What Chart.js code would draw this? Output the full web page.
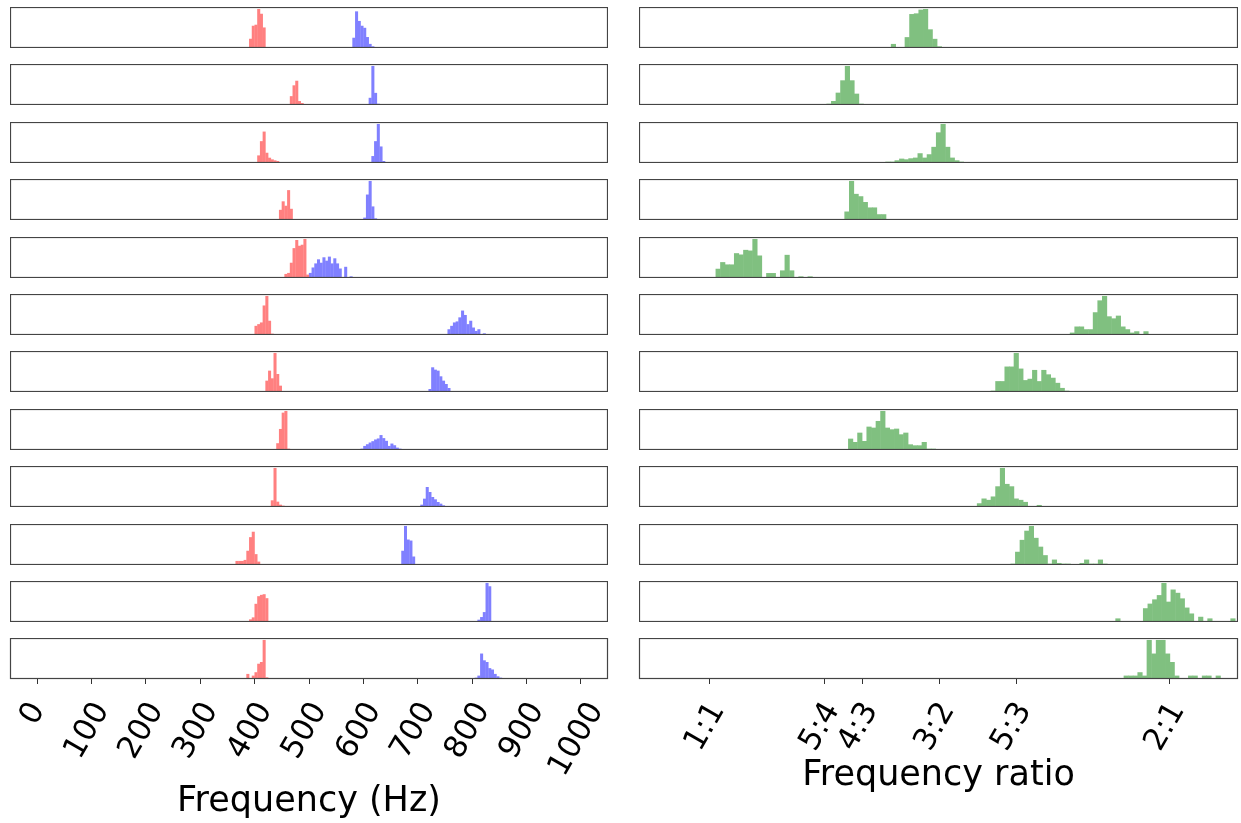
<!DOCTYPE html>
<html>
<head>
<meta charset="utf-8">
<script src="https://cdn.jsdelivr.net/npm/chart.js@4.4.0/dist/chart.umd.min.js"></script>
<style>
  html, body { margin: 0; padding: 0; background: #fff; overflow: hidden; }
  #figure { position: relative; width: 1241px; height: 823px; }
  #figure canvas { position: absolute; }
</style>
</head>
<body>
<div id="figure"></div>
<script>
// histogram bins (counts are relative heights)
const freqBin = 5;
const lowStarts = [390, 465, 405, 445, 450, 400, 420, 440, 430, 365, 380, 385];
const lowCounts = [
  [27, 65, 68, 114, 100, 60],
  [27, 60, 74, 12, 6],
  [23, 66, 95, 31, 16, 11, 8, 6, 3],
  [30, 55, 42, 88, 33],
  [3, 12, 15, 45, 88, 112, 95, 98, 115, 10],
  [27, 32, 37, 87, 115, 42, 4],
  [34, 64, 41, 117, 54, 19],
  [20, 62, 110, 115, 4],
  [20, 117, 16, 7, 4],
  [12, 12, 12, 15, 42, 82, 98, 32, 10],
  [3, 0, 8, 14, 55, 78, 82, 84, 72],
  [15, 0, 10, 20, 45, 50, 115, 5, 3]
];
const highStarts = [580, 610, 615, 600, 500, 755, 720, 595, 705, 670, 800, 805];
const highCounts = [
  [30, 107, 79, 65, 59, 32, 12, 5],
  [22, 119, 37, 4],
  [21, 66, 118, 50, 6],
  [7, 75, 115, 40, 5],
  [15, 31, 43, 55, 45, 61, 51, 63, 43, 58, 43, 28, 0, 33, 0, 5],
  [17, 27, 37, 40, 52, 72, 59, 32, 42, 22, 12, 17, 3, 5, 0, 3],
  [9, 74, 67, 64, 47, 34, 24, 12],
  [4, 12, 17, 22, 26, 31, 34, 44, 35, 27, 12, 19, 14, 7, 4],
  [7, 25, 60, 45, 30, 23, 15, 10, 5, 3],
  [42, 115, 75, 72, 25],
  [3, 3, 7, 15, 30, 118, 108, 3],
  [4, 10, 75, 55, 50, 32, 28, 15, 8, 4]
];

const ratioBin = 0.01;
const ratioStarts = [1.395, 1.255, 1.383, 1.284, 1.014, 1.784, 1.612, 1.302, 1.572, 1.655, 1.883, 1.901];
const ratioCounts = [
  [12, 3, 3, 32, 100, 102, 113, 115, 55, 27, 5, 2],
  [4, 12, 37, 74, 117, 74, 34, 4],
  [4, 4, 8, 13, 11, 14, 16, 29, 16, 26, 48, 91, 116, 48, 16, 8, 4],
  [3, 25, 115, 77, 70, 53, 37, 37, 17, 17],
  [28, 48, 41, 41, 75, 71, 85, 83, 118, 68, 0, 15, 15, 0, 23, 70, 23, 0, 5, 0, 5],
  [7, 25, 25, 17, 17, 67, 102, 115, 55, 49, 57, 25, 17, 7, 11, 2, 11],
  [4, 32, 32, 75, 75, 115, 69, 35, 39, 65, 32, 65, 52, 42, 27, 12, 4],
  [34, 24, 52, 27, 70, 67, 87, 117, 67, 62, 64, 47, 52, 17, 14, 14, 24, 4, 4],
  [2, 11, 25, 21, 31, 61, 115, 68, 61, 25, 21, 15, 3, 3, 6, 0, 3],
  [4, 39, 74, 101, 115, 80, 54, 29, 4, 16, 6, 4, 4, 0, 0, 6, 16, 4, 4, 16, 4],
  [11, 0, 0, 0, 0, 0, 42, 56, 69, 82, 119, 62, 99, 89, 72, 44, 26, 0, 16, 0, 11, 0, 0, 0, 0, 11],
  [10, 10, 10, 20, 10, 115, 75, 115, 115, 75, 50, 10, 0, 0, 10, 10, 0, 10, 10, 0, 10]
];

const freqTicks = [0, 100, 200, 300, 400, 500, 600, 700, 800, 900, 1000];
const ratioTicks = [1, 5 / 4, 4 / 3, 3 / 2, 5 / 3, 2];
const ratioTickLabels = ['1:1', '5:4', '4:3', '3:2', '5:3', '2:1'];
const freqRange = [-50, 1050];
const ratioRange = [0.847, 2.149];

// layout of the 12 x 2 grid
const rowTops = [7, 64, 122, 179, 237, 294, 351, 409, 466, 524, 581, 638];
const boxH = 41;
const sidePad = 30; // room for the rotated tick labels on the bottom row
const leftCol = { x: 10, w: 598, axisH: 148 };
const rightCol = { x: 639, w: 599, axisH: 122 };

Chart.defaults.font.family = "'DejaVu Sans', sans-serif";
Chart.defaults.color = '#000';

const figure = document.getElementById('figure');

const toBars = (start, counts, bin) => counts.map((c, i) => ({ x: start + (i + 0.5) * bin, y: c }));

const framePlugin = {
  id: 'frame',
  afterDatasetsDraw(chart) {
    const { ctx, chartArea: a } = chart;
    ctx.save();
    ctx.strokeStyle = '#444';
    ctx.lineWidth = 1.2;
    ctx.strokeRect(a.left + 0.5, a.top + 0.5, a.right - a.left - 1, a.bottom - a.top - 1);
    ctx.restore();
  }
};

// chart.js ends rotated labels at the tick; matplotlib centres them on it
const centerLabelsPlugin = {
  id: 'centerLabels',
  beforeDraw(chart) {
    const scale = chart.scales.x;
    if (!scale.options.display) return;
    const ctx = chart.ctx;
    ctx.save();
    scale.getLabelItems().forEach(item => {
      if (item.shifted) return;
      ctx.font = item.font.string;
      const w = ctx.measureText(String(item.label)).width;
      item.options.translation[0] += w / 4 - 4;
      item.shifted = true;
    });
    ctx.restore();
  }
};

// solid tints (the 50% alpha look) and a hair of overlap so bins don't show seams
function barSet(data, color) {
  return {
    data,
    backgroundColor: color,
    borderWidth: 0,
    barPercentage: 1.12,
    categoryPercentage: 1,
    grouped: false
  };
}

function makeChart(col, row, datasets, range, ticks, labelFn, title) {
  const bottom = row === rowTops.length - 1;
  const pad = bottom ? sidePad : 0;
  const canvas = document.createElement('canvas');
  const w = col.w + 2 * pad;
  const h = bottom ? boxH + col.axisH : boxH;
  canvas.width = w;
  canvas.height = h;
  canvas.style.left = (col.x - pad) + 'px';
  canvas.style.top = rowTops[row] + 'px';
  canvas.style.width = w + 'px';
  canvas.style.height = h + 'px';
  figure.appendChild(canvas);

  const peak = Math.max(...datasets.flatMap(d => d.data.map(p => p.y)));

  return new Chart(canvas, {
    type: 'bar',
    data: { datasets },
    plugins: [framePlugin, centerLabelsPlugin],
    options: {
      responsive: false,
      animation: false,
      devicePixelRatio: 1,
      events: [],
      layout: { padding: { left: pad, right: pad, top: 0, bottom: 0 } },
      plugins: { legend: { display: false }, tooltip: { enabled: false } },
      scales: {
        x: {
          type: 'linear',
          min: range[0],
          max: range[1],
          offset: false,
          display: bottom,
          afterBuildTicks: s => { s.ticks = ticks.map(v => ({ value: v })); },
          afterFit: s => { if (bottom) s.height = col.axisH; },
          grid: { offset: false, drawOnChartArea: false, drawTicks: true, tickLength: 5, color: '#333' },
          border: { display: false },
          ticks: {
            autoSkip: false,
            minRotation: 60,
            maxRotation: 60,
            padding: 12,
            color: '#000',
            font: { size: 31 },
            callback: labelFn
          },
          title: { display: true, text: title, color: '#000', font: { size: 35 }, padding: { top: 4, bottom: 4 } }
        },
        y: { display: false, min: 0, max: peak * 1.05 }
      }
    }
  });
}

for (let r = 0; r < rowTops.length; r++) {
  makeChart(leftCol, r, [
    barSet(toBars(lowStarts[r], lowCounts[r], freqBin), '#ff8080'),
    barSet(toBars(highStarts[r], highCounts[r], freqBin), '#8080ff')
  ], freqRange, freqTicks, v => v, 'Frequency (Hz)');

  makeChart(rightCol, r, [
    barSet(toBars(ratioStarts[r], ratioCounts[r], ratioBin), '#80c080')
  ], ratioRange, ratioTicks, (v, i) => ratioTickLabels[i], 'Frequency ratio');
}
</script>
</body>
</html>
